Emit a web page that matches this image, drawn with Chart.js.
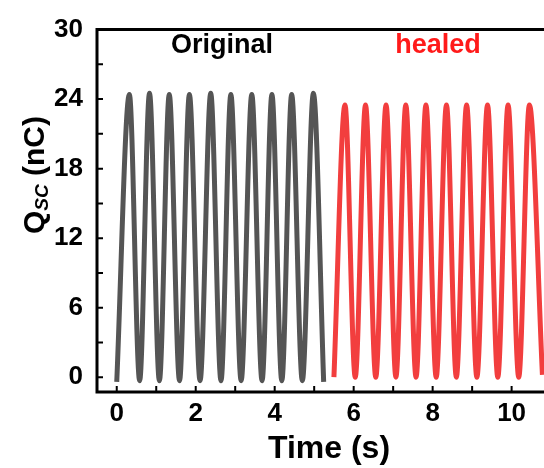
<!DOCTYPE html>
<html>
<head>
<meta charset="utf-8">
<script src="https://cdn.jsdelivr.net/npm/chart.js@4"></script>
<style>
  body { margin: 0; background: #fff; }
  canvas { display: block; }
</style>
</head>
<body>
<canvas id="qscChart" width="544" height="468"></canvas>
<script>
// Original sample: troughs / peaks (s, nC)
const originalTimes = [0.0, 0.32, 0.58, 0.83, 1.08, 1.33, 1.59, 1.84, 2.11, 2.38, 2.64,
  2.89, 3.15, 3.42, 3.68, 3.93, 4.18, 4.43, 4.70, 4.98, 5.24];
const originalQ = [-0.4, 24.4, -0.3, 24.5, -0.3, 24.4, -0.3, 24.4, -0.3, 24.5, -0.3,
  24.4, -0.3, 24.4, -0.3, 24.4, -0.3, 24.4, -0.3, 24.5, -0.4];

// Healed sample
const healedTimes = [5.50, 5.78, 6.04, 6.30, 6.56, 6.82, 7.07, 7.32, 7.58, 7.83, 8.09,
  8.35, 8.60, 8.86, 9.12, 9.39, 9.65, 9.91, 10.18, 10.45, 10.78];
const healedQ = [0.0, 23.5, 0.0, 23.5, 0.0, 23.5, 0.0, 23.5, 0.0, 23.5, 0.0,
  23.5, 0.0, 23.5, 0.0, 23.5, 0.0, 23.5, 0.0, 23.5, 0.2];

const xTicks = [0, 2, 4, 6, 8, 10];
const yTicks = [0, 6, 12, 18, 24, 30];

const toPoints = (ts, qs) => ts.map((t, i) => ({ x: t, y: qs[i] }));

const FONT = 'Arial, "Liberation Sans", Helvetica, sans-serif';

// axes frame, inward ticks, titles and labels
const framePlugin = {
  id: 'frame',
  afterDraw(chart) {
    const { ctx, chartArea: a, scales: { x, y } } = chart;
    ctx.save();
    ctx.strokeStyle = '#000';
    ctx.lineWidth = 3;
    ctx.beginPath();
    ctx.moveTo(a.right + 2, a.top);
    ctx.lineTo(a.left, a.top);
    ctx.lineTo(a.left, a.bottom);
    ctx.lineTo(a.right + 2, a.bottom);
    ctx.stroke();

    ctx.lineWidth = 2;
    ctx.beginPath();
    for (let v = 0; v <= 30; v += 3) {
      const py = y.getPixelForValue(v);
      ctx.moveTo(a.left, py);
      ctx.lineTo(a.left + 6, py);
    }
    for (let v = 0; v <= 10; v += 1) {
      const px = x.getPixelForValue(v);
      ctx.moveTo(px, a.bottom);
      ctx.lineTo(px, a.bottom - 6);
    }
    ctx.stroke();

    // series labels
    ctx.textAlign = 'center';
    ctx.textBaseline = 'middle';
    ctx.font = 'bold 27px ' + FONT;
    ctx.fillStyle = '#000';
    ctx.fillText('Original', 222, 46);
    ctx.fillStyle = '#ff1a1a';
    ctx.fillText('healed', 438, 46);

    // x title
    ctx.fillStyle = '#000';
    ctx.font = 'bold 32px ' + FONT;
    ctx.textBaseline = 'alphabetic';
    ctx.fillText('Time (s)', 329, 458);

    // y title with subscript
    ctx.translate(44, 175);
    ctx.rotate(-Math.PI / 2);
    const big = 'bold 30px ' + FONT;
    const small = 'italic bold 19px ' + FONT;
    ctx.font = big;
    const wQ = ctx.measureText('Q').width;
    const wRest = ctx.measureText(' (nC)').width;
    ctx.font = small;
    const wSub = ctx.measureText('SC').width;
    let cx = -(wQ + wSub + wRest) / 2;
    ctx.textAlign = 'left';
    ctx.font = big;
    ctx.fillText('Q', cx, 0);
    cx += wQ;
    ctx.font = small;
    ctx.fillText('SC', cx, 4);
    cx += wSub;
    ctx.font = big;
    ctx.fillText(' (nC)', cx, 0);
    ctx.restore();
  }
};

new Chart(document.getElementById('qscChart'), {
  type: 'line',
  data: {
    datasets: [
      {
        label: 'Original',
        data: toPoints(originalTimes, originalQ),
        borderColor: '#555555',
        borderWidth: 5,
        pointRadius: 0,
        cubicInterpolationMode: 'monotone',
        fill: false
      },
      {
        label: 'healed',
        data: toPoints(healedTimes, healedQ),
        borderColor: '#f23e3e',
        borderWidth: 5,
        pointRadius: 0,
        cubicInterpolationMode: 'monotone',
        fill: false
      }
    ]
  },
  options: {
    responsive: false,
    animation: false,
    layout: { padding: { top: 26, right: 0, left: 0, bottom: 0 } },
    plugins: { legend: { display: false }, tooltip: { enabled: false } },
    scales: {
      x: {
        type: 'linear',
        min: -0.5,
        max: 10.82,
        afterFit: s => { s.height = 76; },
        afterBuildTicks: s => { s.ticks = xTicks.map(v => ({ value: v })); },
        grid: { display: false, drawTicks: false },
        border: { display: false },
        ticks: { color: '#000', padding: 6, maxRotation: 0, font: { family: FONT, size: 26, weight: 'bold' } }
      },
      y: {
        min: -1.28,
        max: 30,
        afterFit: s => { s.width = 97; },
        afterBuildTicks: s => { s.ticks = yTicks.map(v => ({ value: v })); },
        grid: { display: false, drawTicks: false },
        border: { display: false },
        ticks: { color: '#000', padding: 14, font: { family: FONT, size: 26, weight: 'bold' } }
      }
    }
  },
  plugins: [framePlugin]
});
</script>
</body>
</html>
